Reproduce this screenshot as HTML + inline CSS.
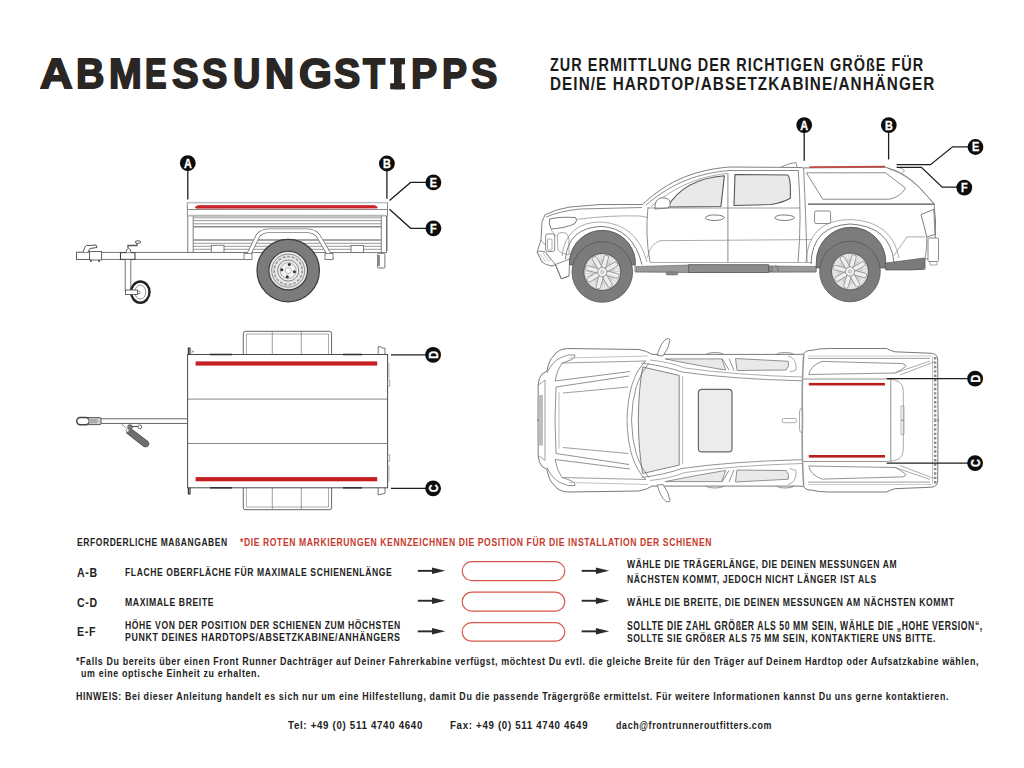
<!DOCTYPE html>
<html><head><meta charset="utf-8"><title>Abmessungstipps</title>
<style>
html,body{margin:0;padding:0;background:#fff;}
body{width:1024px;height:768px;position:relative;overflow:hidden;font-family:"Liberation Sans",sans-serif;}
.t{position:absolute;white-space:nowrap;line-height:1;transform-origin:0 0;}
svg{position:absolute;left:0;top:0;}
</style></head><body>
<svg width="1024" height="768" viewBox="0 0 1024 768">
<g id="trailer-side" fill="none" stroke="#6e6e6e" stroke-width="0.9">
  <!-- body panel -->
  <rect x="187.8" y="215.7" width="198.7" height="36.9" fill="#fff"/>
  <line x1="193.2" y1="215.7" x2="193.2" y2="252.6"/>
  <line x1="381.3" y1="215.7" x2="381.3" y2="252.6"/>
  <g stroke="#8a8a8a">
   <line x1="193.2" y1="217.4" x2="381.3" y2="217.4" stroke-width="2" stroke="#bdbdbd"/>
   <line x1="193.2" y1="220.6" x2="381.3" y2="220.6"/>
   <line x1="193.2" y1="223.8" x2="381.3" y2="223.8"/>
   <line x1="193.2" y1="226.8" x2="381.3" y2="226.8" stroke-width="1.4"/>
   <line x1="193.2" y1="240.0" x2="381.3" y2="240.0" stroke-width="1.4"/>
   <line x1="193.2" y1="243.3" x2="381.3" y2="243.3"/>
   <line x1="193.2" y1="246.3" x2="381.3" y2="246.3"/>
   <line x1="193.2" y1="249.3" x2="381.3" y2="249.3"/>
  </g>
  <!-- brackets -->
  <rect x="211.3" y="245.3" width="12.7" height="7.3" fill="#fff"/>
  <rect x="351" y="245.5" width="12.5" height="7" fill="#fff"/>
  <!-- top rail -->
  <rect x="187.3" y="202.4" width="200.2" height="13.3" fill="#fff" stroke="#7a7a7a"/>
  <line x1="187.3" y1="209.5" x2="387.5" y2="209.5" stroke="#7a7a7a"/>
  <line x1="187.3" y1="202.9" x2="387.5" y2="202.9" stroke="#cfcfcf" stroke-width="1.2"/>
  <line x1="187.3" y1="215.2" x2="387.5" y2="215.2" stroke="#c8c8c8" stroke-width="1"/>
  <path d="M195.6 206.9 Q197 205.6 200 205.7 L374 205.7 Q377 205.8 377.2 207.9 L196 208.1 Z" fill="#c8242a" stroke="#c8242a" stroke-width="1"/>
  <!-- right side edge -->
  <line x1="387" y1="216" x2="387" y2="251" stroke="#555" stroke-width="0.8"/>
  <!-- rear light -->
  <rect x="377.6" y="253.3" width="7.3" height="14.7" rx="1" fill="#fff" stroke="#666"/>
  <line x1="379" y1="255" x2="379" y2="266" stroke="#555" stroke-width="1.3"/>
  <!-- drawbar -->
  <rect x="77" y="252.4" width="172" height="7" fill="#fff" stroke="#6a6a6a"/>
  <!-- fender tube -->
  <path d="M246 259.5 L249 254 L258 235.5 Q262 230.8 269 230.8 L307 230.8 Q314 230.8 318 235.5 L329 254 L332 259.5" stroke="#7a7a7a" stroke-width="4.6" fill="none"/>
  <path d="M246 259.5 L249 254 L258 235.5 Q262 230.8 269 230.8 L307 230.8 Q314 230.8 318 235.5 L329 254 L332 259.5" stroke="#fff" stroke-width="3" fill="none"/>
  <rect x="244" y="253.5" width="8" height="6" fill="#fff" stroke="#777"/>
  <rect x="325" y="253.5" width="8" height="6" fill="#fff" stroke="#777"/>
  <!-- wheel -->
  <circle cx="288.2" cy="270.6" r="31.2" fill="#7b7b7b" stroke="#3a3a3a" stroke-width="1.2"/>
  <circle cx="288.2" cy="270.6" r="19.3" fill="#e6e6e6" stroke="#3a3a3a" stroke-width="1.1"/>
  <circle cx="288.2" cy="270.6" r="16.5" fill="none" stroke="#777" stroke-width="0.8"/>
  <circle cx="288.2" cy="270.6" r="14" fill="none" stroke="#999" stroke-width="1.6" stroke-dasharray="3 1.6"/>
  <circle cx="288.2" cy="270.6" r="10.5" fill="#f2f2f2" stroke="#666" stroke-width="0.8"/>
  <circle cx="288.2" cy="270.6" r="8" fill="none" stroke="#888" stroke-width="0.7"/>
  <circle cx="288.2" cy="270.6" r="3" fill="#fff" stroke="#888" stroke-width="0.6"/>
  <g fill="#333" stroke="none">
   <circle cx="289.3" cy="264.5" r="1.5"/><circle cx="294.4" cy="271.7" r="1.5"/>
   <circle cx="287.3" cy="276.8" r="1.5"/><circle cx="281.8" cy="269.8" r="1.5"/>
  </g>
  <!-- coupling -->
  <rect x="76.5" y="252.2" width="13" height="7.2" fill="#fff" stroke="#555"/>
  <rect x="89.5" y="251.5" width="12" height="8.5" fill="#fff" stroke="#555"/>
  <path d="M83 252 L85 247 Q86 244.5 89 245.5 L96 245 L97 247.5 L90 248.5 L88 252" fill="#fff" stroke="#555" stroke-width="1"/>
  <circle cx="91" cy="261" r="1" fill="#444" stroke="none"/><circle cx="99" cy="261" r="1" fill="#444" stroke="none"/>
  <!-- jockey wheel -->
  <rect x="120.5" y="252.6" width="14.5" height="6.8" fill="#fff" stroke="#444" stroke-width="1.1"/>
  <path d="M126 252.5 Q126 248.5 128.5 248.5 Q131 248.5 131 252.5" fill="#fff" stroke="#555"/>
  <path d="M128 248 L128 245.5 L137 245.5 L137 243" stroke="#555" stroke-width="1.3" fill="none"/>
  <ellipse cx="138" cy="242" rx="2.8" ry="1.3" fill="#fff" stroke="#555"/>
  <rect x="125.2" y="259.4" width="5.6" height="31.6" fill="#fff" stroke="#666"/>
  <ellipse cx="140.3" cy="292.1" rx="9.2" ry="10.6" fill="#fff" stroke="#222" stroke-width="2.4"/>
  <ellipse cx="140.3" cy="292.1" rx="5.5" ry="7" fill="#fff" stroke="#777" stroke-width="0.8"/>
  <circle cx="138.5" cy="292.5" r="1.4" fill="#fff" stroke="#555" stroke-width="0.8"/>
  <rect x="125.5" y="290" width="12" height="4.5" fill="#fff" stroke="#555"/>
</g>
<g id="trailer-top" fill="none" stroke="#555" stroke-width="0.9">
  <!-- fenders -->
  <path d="M243.3 354.5 L243.3 333.5 Q243.3 331.3 245.5 331.3 L329.4 331.3 Q331.6 331.3 331.6 333.5 L331.6 354.5" fill="#fff"/>
  <path d="M246.4 354.5 L246.4 334 L328.5 334 L328.5 354.5" stroke="#888" stroke-width="0.7"/>
  <line x1="272.3" y1="331.3" x2="272.3" y2="354.5" stroke="#777" stroke-width="0.7"/>
  <line x1="301.3" y1="331.3" x2="301.3" y2="354.5" stroke="#777" stroke-width="0.7"/>
  <path d="M243.3 487.8 L243.3 508 Q243.3 509.7 245.5 509.7 L329.4 509.7 Q331.6 509.7 331.6 508 L331.6 487.8" fill="#fff"/>
  <path d="M246.4 487.8 L246.4 507 L328.5 507 L328.5 487.8" stroke="#888" stroke-width="0.7"/>
  <line x1="272.3" y1="487.8" x2="272.3" y2="509.7" stroke="#777" stroke-width="0.7"/>
  <line x1="301.3" y1="487.8" x2="301.3" y2="509.7" stroke="#777" stroke-width="0.7"/>
  <!-- body -->
  <rect x="187.6" y="354.5" width="200" height="133.3" fill="#fff" stroke="#4a4a4a" stroke-width="1"/>
  <line x1="187.6" y1="399.1" x2="387.6" y2="399.1" stroke="#666" stroke-width="0.8"/>
  <line x1="187.6" y1="443.5" x2="387.6" y2="443.5" stroke="#666" stroke-width="0.8"/>
  <line x1="210" y1="354.5" x2="232" y2="354.5" stroke="#333" stroke-width="1.6"/>
  <line x1="343" y1="354.5" x2="362" y2="354.5" stroke="#333" stroke-width="1.6"/>
  <line x1="210" y1="487.8" x2="232" y2="487.8" stroke="#333" stroke-width="1.6"/>
  <line x1="343" y1="487.8" x2="362" y2="487.8" stroke="#333" stroke-width="1.6"/>
  <!-- tabs -->
  <path d="M188.4 354.5 L188.4 348 L190 348 L190 354.5" stroke="#333" stroke-width="1.2"/>
  <path d="M191.5 351 L194 351.5 L191.5 352.5" stroke="#666" stroke-width="0.6"/>
  <path d="M378.2 354.5 L378.2 346.7 L381 346.7 L382 348 L385 348.2 L385 354.5" stroke="#555" stroke-width="0.8"/>
  <path d="M188.4 487.8 L188.4 494 L190 494 L190 487.8" stroke="#333" stroke-width="1.2"/>
  <path d="M378.2 487.8 L378.2 495 L382 494 L385 493.5 L385 487.8" stroke="#555" stroke-width="0.8"/>
  <!-- nubs on right -->
  <rect x="387.6" y="380" width="2.2" height="6" stroke="#777" stroke-width="0.6"/>
  <rect x="387.6" y="455" width="2.2" height="6" stroke="#777" stroke-width="0.6"/>
  <line x1="389" y1="363" x2="389" y2="378" stroke="#888" stroke-width="0.6"/>
  <line x1="389" y1="465" x2="389" y2="482" stroke="#888" stroke-width="0.6"/>
  <!-- red bars -->
  <rect x="195.6" y="361.4" width="181.6" height="4.2" fill="#c41e22" stroke="none"/>
  <rect x="195.6" y="477.1" width="181.6" height="4.2" fill="#c41e22" stroke="none"/>
  <!-- drawbar -->
  <rect x="100" y="418.8" width="87.6" height="4.6" fill="#fff" stroke="#555" stroke-width="0.9"/>
  <rect x="84" y="417.6" width="17" height="7" rx="1" fill="#d0d0d0" stroke="#555" stroke-width="1"/>
  <rect x="76.7" y="417.5" width="12.5" height="7.2" rx="3.6" fill="#fff" stroke="#444" stroke-width="1.5"/>
  <rect x="88.5" y="419" width="9" height="4.2" fill="#aaa" stroke="none"/>
  <!-- jockey top view -->
  <line x1="121" y1="423.4" x2="126" y2="428" stroke="#666" stroke-width="0.7"/>
  <path d="M131.5 429 L148 441.5 Q150 443.5 148 446 Q145.5 448 143 446 L126.5 433 Z" fill="#6e6e6e" stroke="#444" stroke-width="0.8"/>
  <circle cx="130" cy="427" r="2.3" fill="#888" stroke="#444" stroke-width="0.8"/>
  <line x1="131.5" y1="426.5" x2="138" y2="426.5" stroke="#555" stroke-width="1.1"/>
  <circle cx="139.8" cy="426.8" r="1.9" fill="#fff" stroke="#444" stroke-width="0.8"/>
  <circle cx="127.5" cy="430.5" r="1.5" fill="#fff" stroke="#555" stroke-width="0.6"/>
</g>
<g id="truck-side" fill="none" stroke="#6a6a6a" stroke-width="0.85" stroke-linejoin="round">
  <!-- silhouette fill -->
  <path d="M537.2 252.1 L538 249 L541 240 L542 222 L545 214.8 Q556 209 570 207 L600 204.5 L642.5 204.5 C662 186 688 170 730 167 L800 167.5 L803.6 167.9 L885.7 167.3 Q905 172 920 188 L934 203.8 L935.5 220 L935 258 L925 259 L925 269.4 L886 269.4 L885.7 262 A34 34 0 0 0 816.4 262 L816 272 L635 272 L635.2 260.5 A33 33 0 0 0 569.6 259.2 L569 276 L561.25 278.8 L555.4 264.5 L552 266 L542 262 L537.2 252.1 Z" fill="#fff" stroke="#6a6a6a"/>
  <!-- hood top line -->
  <path d="M546 217 Q560 211 580 209 L642 207.5" stroke="#777"/>
  <path d="M575.5 219.5 Q610 215 640 216 L648 217.5" stroke="#888" stroke-width="0.7"/>
  <!-- headlight -->
  <path d="M549.5 219 Q560 216.5 575.5 217.5 Q578 220 575 223.5 Q566 228 551 229 Q548.5 224 549.5 219 Z" fill="#fff" stroke="#666"/>
  <!-- grille/front details -->
  <rect x="545.6" y="233.9" width="9.1" height="17.6" rx="2" fill="#fff" stroke="#777"/>
  <rect x="547.5" y="239" width="4.5" height="11" rx="0.8" fill="#fff" stroke="#888" stroke-width="0.7"/>
  <path d="M557.3 236 Q557.5 232.6 561 232.6 L566 233 Q569 236 569 240 L569 254.7 Q561 254 558 250 Z" fill="#fff" stroke="#888" stroke-width="0.7"/>
  <path d="M537.2 252.1 L540 251 L545.5 252 L555.4 264.5 L552 266 Q545 265 542 262 Z" fill="#fff" stroke="#777"/>
  <path d="M540 254 L546 262 M543 253 L549 262 M546 253.5 L551 261" stroke="#999" stroke-width="0.6"/>
  <path d="M555.4 264.5 L569 259.3" stroke="#777"/>
  <path d="M555.4 264.5 L561.25 278.8 L569 276" stroke="#777"/>
  <path d="M541 240 L544 244 L545.6 244" stroke="#777" stroke-width="0.7"/>
  <path d="M551 230 L556 236" stroke="#888" stroke-width="0.7"/>
  <!-- front flare -->
  <path d="M565.5 259 Q568 228 601 226.4 Q633 228 642 264.6" stroke="#666"/>
  <path d="M562 256 Q566 222 601 222 Q637 224 647 262" stroke="#888" stroke-width="0.7"/>
  <!-- front arch dark well -->
  <path d="M569.6 259.2 A33 33 0 0 1 635.2 260.5 L635.2 265 L569.6 265 Z" fill="#7c7c7c" stroke="#555" stroke-width="0.7"/>
  <!-- rear arch dark well -->
  <path d="M816.4 262 A34 34 0 0 1 885.7 262 L885.7 268 L816.4 268 Z" fill="#7c7c7c" stroke="#555" stroke-width="0.7"/>
  <!-- rear flare -->
  <path d="M811 264 Q812 226 850 224 Q890 226 894 262" stroke="#666"/>
  <path d="M806 262 Q808 220 850 219.5 Q892 221 899 258" stroke="#888" stroke-width="0.7"/>
  <!-- running board -->
  <path d="M636 266.5 L689 265 L816 266.5 L816 271.5 L689 272.5 L636 271.5 Z" fill="#9a9a9a" stroke="#666" stroke-width="0.6"/>
  <rect x="688.6" y="264.6" width="80" height="7.9" fill="#8c8c8c" stroke="#555" stroke-width="0.7"/>
  <path d="M769 266 L770 272 M772 266 L772 272 M775 265.5 Q778 266 778 268 L778 271" stroke="#555" stroke-width="0.6"/>
  <rect x="666" y="272" width="12" height="3" rx="1.5" fill="#888" stroke="#666" stroke-width="0.5"/>
  <!-- windshield/A pillar lines -->
  <path d="M646 205 C666 188 691 173.5 730 170.5 L798 170.5" stroke="#777"/>
  <path d="M651 206.5 C670 191 693 177 727 173.5" stroke="#888" stroke-width="0.7"/>
  <!-- windows -->
  <path d="M667.5 207 Q684 179 724.4 175.8 L720.9 206.5 Z" fill="#e9e9e9" stroke="#555" stroke-width="1.1"/>
  <path d="M735 174.6 L787.6 175 Q791 177 790.3 198.3 Q782 203 771 204.5 L734 205.5 Z" fill="#e9e9e9" stroke="#555" stroke-width="1.1"/>
  <!-- mirror -->
  <path d="M655 209 Q654 201 660 198 Q667 197 670 201 Q671 206 668 208 Z" fill="#fff" stroke="#666"/>
  <!-- B pillar & door lines -->
  <line x1="727.9" y1="173" x2="727.9" y2="262" stroke="#777"/>
  <path d="M648 207 Q645 235 650 262" stroke="#777"/>
  <path d="M798.2 170 Q802 220 798 262" stroke="#777"/>
  <line x1="648" y1="208" x2="800" y2="208" stroke="#777" stroke-width="0.7"/>
  <!-- door crease -->
  <path d="M647.5 257.8 Q650 244 660 240.7 L812 239.6" stroke="#888" stroke-width="0.7"/>
  <line x1="650" y1="262.5" x2="812" y2="262.5" stroke="#888" stroke-width="0.7"/>
  <!-- door handles -->
  <path d="M705 217.7 Q708 214.5 716 215 Q724 215.5 724.4 217.7 Q722 220.5 714 220.5 Q707 220.5 705 217.7 Z" fill="#fff" stroke="#666"/>
  <path d="M774.5 217.7 Q777 214.5 785 215 Q794 215.5 794.7 217.7 Q792 220.5 784 220.5 Q777 220.5 774.5 217.7 Z" fill="#fff" stroke="#666"/>
  <!-- roof rail/antenna -->
  <path d="M781 167 L790 163.5 L796 162.5 L797 167" stroke="#777" stroke-width="0.8"/>
  <!-- canopy -->
  <path d="M803.6 168 Q806 220 807 262" stroke="#777"/>
  <path d="M806.4 172.8 L885.7 172.8 L905.7 188.3 Q900 197 889.3 199.2 L822.8 199.2 Z" fill="#fff" stroke="#777"/>
  <line x1="808" y1="204.1" x2="934.4" y2="204.1" stroke="#555" stroke-width="1.2"/>
  <path d="M888 168.5 Q910 175 928 197 L934 203.8" stroke="#888" stroke-width="0.7"/>
  <path d="M897 167 L903 169 Q906 172 902 172" stroke="#888" stroke-width="0.7"/>
  <rect x="814.6" y="211" width="16" height="12.5" rx="1.5" fill="#fff" stroke="#777"/>
  <!-- taillight -->
  <path d="M921 214.6 L933.8 209.3 L935 234.5 L926.8 236.9 Q924 225 921 214.6 Z" fill="#fff" stroke="#666"/>
  <!-- rear quarter crease -->
  <path d="M894 255.6 L906.9 236.9 L925 236.9" stroke="#888" stroke-width="0.7"/>
  <path d="M926.8 237 Q927 250 925 258" stroke="#777"/>
  <!-- rear bumper -->
  <path d="M884.6 263.2 L924.5 258 L924.5 268 Q922 270 905 270 L885.8 270 Z" fill="#7a7a7a" stroke="#555" stroke-width="0.7"/>
  <rect x="928" y="238" width="10.5" height="23.5" rx="1" fill="#fff" stroke="#777"/>
  <path d="M930 261.5 L930 265 L937 265 L937 261.5" stroke="#888" stroke-width="0.7"/>
  <path d="M809.5 167.2 L885 166.6" stroke="#c04a42" stroke-width="1.8"/>
  <!-- wheels -->
  <g id="wh">
   <circle cx="602.3" cy="272" r="30.3" fill="#7b7b7b" stroke="#555" stroke-width="0.8"/>
   <circle cx="602.3" cy="272" r="18.5" fill="#d4d4d4" stroke="#555" stroke-width="0.9"/>
   <circle cx="602.3" cy="272" r="15" fill="none" stroke="#f2f2f2" stroke-width="4.5" stroke-dasharray="1.2 1.2"/>
   <g fill="#eeeeee" stroke="#777" stroke-width="0.6">
    <rect x="600.00" y="254.80" width="4.6" height="13" rx="2" transform="rotate(15 602.3 272)"/><rect x="600.00" y="254.80" width="4.6" height="13" rx="2" transform="rotate(60 602.3 272)"/><rect x="600.00" y="254.80" width="4.6" height="13" rx="2" transform="rotate(105 602.3 272)"/><rect x="600.00" y="254.80" width="4.6" height="13" rx="2" transform="rotate(150 602.3 272)"/><rect x="600.00" y="254.80" width="4.6" height="13" rx="2" transform="rotate(195 602.3 272)"/><rect x="600.00" y="254.80" width="4.6" height="13" rx="2" transform="rotate(240 602.3 272)"/><rect x="600.00" y="254.80" width="4.6" height="13" rx="2" transform="rotate(285 602.3 272)"/><rect x="600.00" y="254.80" width="4.6" height="13" rx="2" transform="rotate(330 602.3 272)"/>
   </g>
   <circle cx="602.3" cy="272" r="4.5" fill="#f4f4f4" stroke="#888" stroke-width="0.7"/>
   <circle cx="602.3" cy="272" r="1.8" fill="#ddd" stroke="#999" stroke-width="0.5"/>
  </g>
  <use href="#wh" transform="translate(247.7 -0.5)"/>
</g>
<g id="truck-top" fill="none" stroke="#6a6a6a" stroke-width="0.8" stroke-linejoin="round">
 <defs>
  <path id="ttfill" d="M538 421.5 L538.2 385 Q538.5 378 542 374 L547 371 Q549 360 553.4 356.1 Q558 349 567.5 348.5 L639 349.5 Q647 351 652 354.4 L800 354.4 L803.5 354 Q806 350 811.7 350.4 Q818 348.5 829.3 348.5 L886.4 348.5 Q890 350.5 895.2 351.8 L931.8 353.3 Q937.7 354 937.7 360 L938.1 421.5" fill="#fff" stroke="none"/>
  <g id="tthalf">
   <!-- outer silhouette (top half) -->
   <path d="M538 421.5 L538.2 385 Q538.5 378 542 374 L547 371 Q549 360 553.4 356.1 Q558 349 567.5 348.5 L639 349.5 Q647 351 652 354.4 L800 354.4 L803.5 354 Q806 350 811.7 350.4 Q818 348.5 829.3 348.5 L886.4 348.5 Q890 350.5 895.2 351.8 L931.8 353.3 Q937.7 354 937.7 360 L938.1 421.5" fill="none" stroke="#6a6a6a" stroke-width="0.9"/>
   <!-- grille strip -->
   <path d="M538.5 385 L545 380 L545 420.25" stroke="#888"/>
   
   <!-- front fender details -->
   <path d="M547 373 Q552 362 560 358 Q568 353.5 575 355 Q575 359 568 361 L562 363 Q557 370 555 381" stroke="#777"/>
   <path d="M555 381 L630 371.5" stroke="#777"/>
   <path d="M556 387 L629 376" stroke="#777"/>
   <path d="M563 393 L628.5 387" stroke="#888"/>
   <path d="M562 363 L646 361" stroke="#888"/>
   <path d="M569 358 L648 356" stroke="#999" stroke-width="0.6"/>
   <path d="M556 387 L555 420.25" stroke="#777"/>
   <path d="M559 392 L559 420.25" stroke="#999" stroke-width="0.6"/>
      <!-- hood / windshield boundary (A pillar curve) -->
   <path d="M645.8 360.8 Q628 378 627 420.25" stroke="#777"/>
   <path d="M649 363 Q632.5 381 631.5 420.25" stroke="#777"/>
   <path d="M642.7 367 Q638.5 390 638.3 420.25" stroke="#666"/>
   <path d="M642.7 367 L679.2 375.4" stroke="#666"/>
   <line x1="679.2" y1="375.4" x2="679.2" y2="420.25" stroke="#666"/>
   <line x1="682.6" y1="376.2" x2="682.6" y2="420.25" stroke="#888" stroke-width="0.6"/>
   <!-- roof edge curve -->
   <path d="M641.7 363 Q665 366 682 372 Q730 379 801.9 380.8" stroke="#777"/>
   <path d="M650 360 Q670 362 685 368 Q735 375 801.9 377" stroke="#888" stroke-width="0.7"/>
   <!-- side windows -->
   <path d="M665.2 358.9 L721.8 358.9 L725.7 370 Q700 366 665.2 358.9 Z" fill="#e9e9e9" stroke="#777"/>
   <path d="M735.5 358.5 L788.2 361.25 Q790 366 786 370 L737 370.5 Z" fill="#e9e9e9" stroke="#777"/>
   <path d="M722 358.5 L729 370" stroke="#777"/><path d="M729 358.5 L734 370.5" stroke="#777"/>
   <path d="M788 356 Q797 358 796 370 L790 372" stroke="#888" stroke-width="0.7"/>
   <!-- handle nubs -->
   <path d="M706 354.4 Q708 352.5 715 352.5 Q722 352.5 723.75 354.4" stroke="#777"/>
   <path d="M776.5 354.4 Q778 352.5 785 352.5 Q792 352.5 794 354.4" stroke="#777"/>
   <!-- mirror -->
   <path d="M657.3 355.4 Q660 344 666 339 Q670 337.5 670 340 Q669 348 663 356 Z" fill="#fff" stroke="#666"/>
   <!-- bed -->
   <path d="M803.7 354 Q801.5 390 802.5 420.25" stroke="#999" stroke-width="1.6"/>
   <path d="M808 358.4 L930 358.4" stroke="#888"/>
   <path d="M808 356 L932 356" stroke="#aaa" stroke-width="0.6"/>
   <path d="M808.8 374.5 Q810 366 822 361.4 L902.5 363.6 Q907 365 905.5 366.5 Q900 371 895.2 373 L808.8 374.5 Z" fill="#fff" stroke="#777"/>
   <path d="M895.2 373 L930 361" stroke="#888" stroke-width="0.7"/>
   <path d="M900 375 L934 362" stroke="#888" stroke-width="0.7"/>
   <line x1="803.7" y1="379" x2="886.4" y2="379" stroke="#777"/>
   <line x1="890.8" y1="379" x2="890.8" y2="420.25" stroke="#777"/>
   <path d="M886.4 379 Q903 379 903.3 390 L903.3 420.25" stroke="#888" stroke-width="0.7"/>
   <rect x="901" y="406" width="3" height="14.25" stroke="#888" stroke-width="0.6"/>
   <!-- rear bumper strip -->
   <line x1="935.2" y1="357" x2="935.2" y2="420.25" stroke="#8a8a8a" stroke-width="2.4" stroke-dasharray="2.4 2"/>
   <line x1="932.6" y1="357" x2="932.6" y2="420.25" stroke="#888" stroke-width="0.6"/>
   <!-- red bar -->
   <rect x="808.8" y="382.9" width="76.2" height="2.6" fill="#b8201f" stroke="none"/>
  </g>
 </defs>
 <use href="#ttfill"/>
 <use href="#ttfill" transform="translate(0 840.5) scale(1 -1)"/>
 <path d="M642.7 367 Q638.3 390 638.3 420.25 Q638.3 450.5 642.7 473.5 L679.2 465.1 L679.2 375.4 Z" fill="#ececec" stroke="none"/>
 <rect x="539" y="395" width="4" height="50.5" fill="#bdbdbd" stroke="none"/>
 <use href="#tthalf"/>
 <use href="#tthalf" transform="translate(0 840.5) scale(1 -1)"/>
 <!-- sunroof -->
 <rect x="698.4" y="389.4" width="33.6" height="62.5" rx="3.5" fill="#ececec" stroke="#666" stroke-width="1.2"/>
 <!-- small slot -->
 <rect x="782.3" y="418.5" width="14" height="4.2" rx="1.2" fill="#fff" stroke="#888" stroke-width="0.7"/>
 <!-- bed front bulge -->
 <path d="M802.5 408 Q799.5 408 799.5 412 L799.5 429 Q799.5 433 802.5 433" stroke="#888" stroke-width="0.7"/>
</g>
<g id="table">
 <g fill="none" stroke="#d8574a" stroke-width="1.2">
  <rect x="462.2" y="561.6" width="102.6" height="19" rx="9.5"/>
  <rect x="462.2" y="592.2" width="102.6" height="19" rx="9.5"/>
  <rect x="462.2" y="622.6" width="102.6" height="18.6" rx="9.3"/>
 </g>
 <g fill="#2a2a2a" stroke="none">
  <g id="arr"><rect x="417.8" y="569.9" width="16" height="1.9"/><path d="M432 567.6 L445.3 570.85 L432 574.1 Z"/></g>
  <use href="#arr" transform="translate(0 29.9)"/>
  <use href="#arr" transform="translate(0 60.5)"/>
  <use href="#arr" transform="translate(163.9 0)"/>
  <use href="#arr" transform="translate(163.9 29.9)"/>
  <use href="#arr" transform="translate(163.9 60.5)"/>
 </g>
</g>
<g id="title-I" fill="#2a2624">
 <rect x="390.2" y="58.1" width="14.8" height="6.3"/>
 <rect x="394" y="58.1" width="7.6" height="31.2"/>
 <rect x="390.2" y="83.2" width="14.8" height="6.1"/>
</g>
<g id="labels">
 <g stroke="#1e1e1e" stroke-width="1.3" fill="none">
  <line x1="187.8" y1="170" x2="187.8" y2="199.5"/>
  <line x1="386.9" y1="170" x2="386.9" y2="198.7"/>
  <polyline points="389.5,200.6 410.6,182.4 427,182.4"/>
  <polyline points="389.5,209.2 410.6,228.3 427,228.3"/>
  <line x1="391" y1="354.8" x2="426" y2="354.8"/>
  <line x1="391" y1="488.3" x2="426" y2="488.3"/>
  <line x1="804.2" y1="131" x2="804.2" y2="160.8"/>
  <line x1="888.6" y1="131" x2="888.6" y2="159.5"/>
  <polyline points="896.6,164.7 930.5,164.7 952.6,146.8 968,146.8"/>
  <polyline points="896.6,167.3 921.4,167.3 942.2,187.2 957,187.2"/>
  <line x1="886.6" y1="378.7" x2="968" y2="378.7"/>
  <line x1="886.6" y1="463.1" x2="968" y2="463.1"/>
 </g>
 <g fill="#0d0d0d">
  <circle cx="187.8" cy="163.2" r="7.9"/>
  <circle cx="386.9" cy="163.5" r="7.9"/>
  <circle cx="433.4" cy="182.4" r="7.9"/>
  <circle cx="433.4" cy="228.3" r="7.9"/>
  <circle cx="433.1" cy="354.8" r="7.9"/>
  <circle cx="433.1" cy="488.3" r="7.9"/>
  <circle cx="804.2" cy="125.1" r="7.9"/>
  <circle cx="888.8" cy="125.1" r="7.9"/>
  <circle cx="975.5" cy="147" r="7.9"/>
  <circle cx="964.3" cy="187.6" r="7.9"/>
  <circle cx="975.1" cy="378.7" r="7.9"/>
  <circle cx="975.1" cy="463.1" r="7.9"/>
 </g>
 <g fill="#fff" stroke="#fff" stroke-width="0.35" font-family="Liberation Sans, sans-serif" font-weight="700" font-size="12.6" text-anchor="middle">
  <text transform="translate(187.8 163.2) scale(0.86 1)" x="0" y="4.45">A</text>
  <text transform="translate(386.9 163.5) scale(0.86 1)" x="0" y="4.45">B</text>
  <text transform="translate(433.4 182.4) scale(0.86 1)" x="0" y="4.45">E</text>
  <text transform="translate(433.4 228.3) scale(0.86 1)" x="0" y="4.45">F</text>
  <text transform="translate(433.1 354.8) rotate(-90) scale(0.86 1)" x="0" y="4.45">D</text>
  <text transform="translate(433.1 488.3) rotate(-90) scale(0.86 1)" x="0" y="4.45">C</text>
  <text transform="translate(804.2 125.1) scale(0.86 1)" x="0" y="4.45">A</text>
  <text transform="translate(888.8 125.1) scale(0.86 1)" x="0" y="4.45">B</text>
  <text transform="translate(975.5 147) scale(0.86 1)" x="0" y="4.45">E</text>
  <text transform="translate(964.3 187.6) scale(0.86 1)" x="0" y="4.45">F</text>
  <text transform="translate(975.1 378.7) rotate(-90) scale(0.86 1)" x="0" y="4.45">D</text>
  <text transform="translate(975.1 463.1) rotate(-90) scale(0.86 1)" x="0" y="4.45">C</text>
 </g>
</g>
</svg>

<div class="t tl" style="left:39.98px;top:52.40px;font-size:42.733px;transform:scaleX(1.0569);-webkit-text-stroke:1.8px #2a2624;color:#2a2624;font-weight:700;">A</div>
<div class="t tl" style="left:76.47px;top:52.40px;font-size:42.733px;transform:scaleX(0.9209);-webkit-text-stroke:1.8px #2a2624;color:#2a2624;font-weight:700;">B</div>
<div class="t tl" style="left:109.27px;top:52.40px;font-size:42.733px;transform:scaleX(0.9204);-webkit-text-stroke:1.8px #2a2624;color:#2a2624;font-weight:700;">M</div>
<div class="t tl" style="left:144.84px;top:52.40px;font-size:42.733px;transform:scaleX(0.7550);-webkit-text-stroke:1.8px #2a2624;color:#2a2624;font-weight:700;">E</div>
<div class="t tl" style="left:171.75px;top:52.40px;font-size:42.733px;transform:scaleX(0.9335);-webkit-text-stroke:1.8px #2a2624;color:#2a2624;font-weight:700;">S</div>
<div class="t tl" style="left:202.20px;top:52.40px;font-size:42.733px;transform:scaleX(0.8905);-webkit-text-stroke:1.8px #2a2624;color:#2a2624;font-weight:700;">S</div>
<div class="t tl" style="left:232.62px;top:52.40px;font-size:42.733px;transform:scaleX(0.8876);-webkit-text-stroke:1.8px #2a2624;color:#2a2624;font-weight:700;">U</div>
<div class="t tl" style="left:265.00px;top:52.40px;font-size:42.733px;transform:scaleX(0.9434);-webkit-text-stroke:1.8px #2a2624;color:#2a2624;font-weight:700;">N</div>
<div class="t tl" style="left:298.77px;top:52.40px;font-size:42.733px;transform:scaleX(0.9883);-webkit-text-stroke:1.8px #2a2624;color:#2a2624;font-weight:700;">G</div>
<div class="t tl" style="left:334.47px;top:52.40px;font-size:42.733px;transform:scaleX(0.9218);-webkit-text-stroke:1.8px #2a2624;color:#2a2624;font-weight:700;">S</div>
<div class="t tl" style="left:363.10px;top:52.40px;font-size:42.733px;transform:scaleX(0.8425);-webkit-text-stroke:1.8px #2a2624;color:#2a2624;font-weight:700;">T</div>
<div class="t tl" style="left:410.68px;top:52.40px;font-size:42.733px;transform:scaleX(0.9180);-webkit-text-stroke:1.8px #2a2624;color:#2a2624;font-weight:700;">P</div>
<div class="t tl" style="left:442.09px;top:52.40px;font-size:42.733px;transform:scaleX(0.8766);-webkit-text-stroke:1.8px #2a2624;color:#2a2624;font-weight:700;">P</div>
<div class="t tl" style="left:471.26px;top:52.40px;font-size:42.733px;transform:scaleX(0.9257);-webkit-text-stroke:1.8px #2a2624;color:#2a2624;font-weight:700;">S</div>
<div class="t" id="sub1" style="left:550.00px;top:56.50px;font-size:17.878px;color:#1c1c1c;font-weight:700;transform:scaleX(0.8095);letter-spacing:1.251px;">ZUR ERMITTLUNG DER RICHTIGEN GRÖßE FÜR</div>
<div class="t" id="sub2" style="left:550.00px;top:75.60px;font-size:17.878px;color:#1c1c1c;font-weight:700;transform:scaleX(0.8551);letter-spacing:1.251px;">DEIN/E HARDTOP/ABSETZKABINE/ANHÄNGER</div>
<div class="t" id="erf" style="left:76.80px;top:538.00px;font-size:10.465px;color:#222;font-weight:700;transform:scaleX(0.8107);letter-spacing:0.733px;">ERFORDERLICHE MAßANGABEN</div>
<div class="t" id="red" style="left:240.00px;top:538.00px;font-size:10.465px;color:#c63a2e;font-weight:700;transform:scaleX(0.8209);letter-spacing:0.733px;">*DIE ROTEN MARKIERUNGEN KENNZEICHNEN DIE POSITION FÜR DIE INSTALLATION DER SCHIENEN</div>
<div class="t" id="ab" style="left:76.80px;top:566.00px;font-size:13.081px;color:#222;font-weight:700;transform:scaleX(0.8053);letter-spacing:0.916px;">A-B</div>
<div class="t" id="ab1" style="left:125.00px;top:566.00px;font-size:11.628px;color:#222;font-weight:700;transform:scaleX(0.7367);letter-spacing:0.814px;">FLACHE OBERFLÄCHE FÜR MAXIMALE SCHIENENLÄNGE</div>
<div class="t" id="cd" style="left:76.80px;top:596.60px;font-size:12.500px;color:#222;font-weight:700;transform:scaleX(0.8428);letter-spacing:0.875px;">C-D</div>
<div class="t" id="cd1" style="left:125.00px;top:596.90px;font-size:10.610px;color:#222;font-weight:700;transform:scaleX(0.8132);letter-spacing:0.743px;">MAXIMALE BREITE</div>
<div class="t" id="ef" style="left:76.80px;top:626.00px;font-size:12.645px;color:#222;font-weight:700;transform:scaleX(0.8411);letter-spacing:0.885px;">E-F</div>
<div class="t" id="ef1" style="left:125.00px;top:621.00px;font-size:10.465px;color:#222;font-weight:700;transform:scaleX(0.8183);letter-spacing:0.733px;">HÖHE VON DER POSITION DER SCHIENEN ZUM HÖCHSTEN</div>
<div class="t" id="ef2" style="left:125.00px;top:632.00px;font-size:10.901px;color:#222;font-weight:700;transform:scaleX(0.8103);letter-spacing:0.763px;">PUNKT DEINES HARDTOPS/ABSETZKABINE/ANHÄNGERS</div>
<div class="t" id="r1a" style="left:627.40px;top:559.30px;font-size:11.337px;color:#222;font-weight:700;transform:scaleX(0.7540);letter-spacing:0.794px;">WÄHLE DIE TRÄGERLÄNGE, DIE DEINEN MESSUNGEN AM</div>
<div class="t" id="r1b" style="left:627.40px;top:573.30px;font-size:11.628px;color:#222;font-weight:700;transform:scaleX(0.7386);letter-spacing:0.814px;">NÄCHSTEN KOMMT, JEDOCH NICHT LÄNGER IST ALS</div>
<div class="t" id="r2" style="left:627.40px;top:596.80px;font-size:11.337px;color:#222;font-weight:700;transform:scaleX(0.7579);letter-spacing:0.794px;">WÄHLE DIE BREITE, DIE DEINEN MESSUNGEN AM NÄCHSTEN KOMMT</div>
<div class="t" id="r3a" style="left:627.40px;top:620.70px;font-size:11.919px;color:#222;font-weight:700;transform:scaleX(0.7226);letter-spacing:0.834px;">SOLLTE DIE ZAHL GRÖßER ALS 50 MM SEIN, WÄHLE DIE „HOHE VERSION“,</div>
<div class="t" id="r3b" style="left:627.40px;top:631.90px;font-size:11.628px;color:#222;font-weight:700;transform:scaleX(0.7400);letter-spacing:0.814px;">SOLLTE SIE GRÖßER ALS 75 MM SEIN, KONTAKTIERE UNS BITTE.</div>
<div class="t" id="fn1" style="left:76.30px;top:657.20px;font-size:10.320px;color:#222;font-weight:700;transform:scaleX(0.8601);letter-spacing:0.722px;">*Falls Du bereits über einen Front Runner Dachträger auf Deiner Fahrerkabine verfügst, möchtest Du evtl. die gleiche Breite für den Träger auf Deinem Hardtop oder Aufsatzkabine wählen,</div>
<div class="t" id="fn2" style="left:81.40px;top:669.40px;font-size:10.320px;color:#222;font-weight:700;transform:scaleX(0.8601);letter-spacing:0.722px;">um eine optische Einheit zu erhalten.</div>
<div class="t" id="hin" style="left:76.30px;top:692.30px;font-size:10.320px;color:#222;font-weight:700;transform:scaleX(0.8590);letter-spacing:0.722px;">HINWEIS: Bei dieser Anleitung handelt es sich nur um eine Hilfestellung, damit Du die passende Trägergröße ermittelst. Für weitere Informationen kannst Du uns gerne kontaktieren.</div>
<div class="t" id="tel" style="left:288.40px;top:719.50px;font-size:11.337px;color:#222;font-weight:700;transform:scaleX(0.8574);letter-spacing:0.794px;">Tel: +49 (0) 511 4740 4640</div>
<div class="t" id="fax" style="left:450.10px;top:719.50px;font-size:11.337px;color:#222;font-weight:700;transform:scaleX(0.8566);letter-spacing:0.794px;">Fax: +49 (0) 511 4740 4649</div>
<div class="t" id="mail" style="left:615.70px;top:719.50px;font-size:11.337px;color:#222;font-weight:700;transform:scaleX(0.7860);letter-spacing:0.794px;">dach@frontrunneroutfitters.com</div>
</body></html>
